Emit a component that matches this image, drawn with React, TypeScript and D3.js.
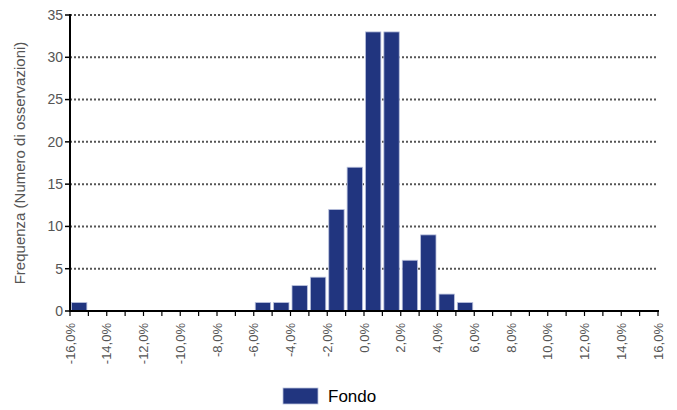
import { useEffect, useRef } from "react";
import * as d3 from "d3";

// bin lower edges (%) and counts
const binStarts = [-16, -15, -14, -13, -12, -11, -10, -9, -8, -7, -6, -5, -4, -3, -2, -1, 0, 1, 2, 3, 4, 5, 6, 7, 8, 9, 10, 11, 12, 13, 14, 15];
const counts = [1, 0, 0, 0, 0, 0, 0, 0, 0, 0, 1, 1, 3, 4, 12, 17, 33, 33, 6, 9, 2, 1, 0, 0, 0, 0, 0, 0, 0, 0, 0, 0];
const xTicks = [-16, -14, -12, -10, -8, -6, -4, -2, 0, 2, 4, 6, 8, 10, 12, 14, 16];
const yTicks = [0, 5, 10, 15, 20, 25, 30, 35];
const seriesName = "Fondo";

const W = 677;
const H = 410;
const FONT = "'Liberation Sans', Arial, sans-serif";
const BAR = "#21357f";

export default function App() {
  const svgRef = useRef<SVGSVGElement | null>(null);

  useEffect(() => {
    if (!svgRef.current) return;
    const svg = d3.select(svgRef.current);
    svg.selectAll("*").remove();

    const x = d3.scaleLinear().domain([-16, 16]).range([70, 658]);
    const y = d3.scaleLinear().domain([0, 35]).range([311, 15]);

    // dotted grid
    svg.append("g")
      .selectAll("line")
      .data(yTicks.filter((d) => d > 0))
      .enter()
      .append("line")
      .attr("x1", x(-16))
      .attr("x2", x(16))
      .attr("y1", (d) => y(d))
      .attr("y2", (d) => y(d))
      .attr("stroke", "#555")
      .attr("stroke-width", 2)
      .attr("stroke-dasharray", "2,2");

    // bars
    const data = binStarts.map((s, i) => ({ s, v: counts[i] })).filter((d) => d.v > 0);
    svg.append("g")
      .selectAll("rect")
      .data(data)
      .enter()
      .append("rect")
      .attr("x", (d) => x(d.s) + 1.5)
      .attr("width", (d) => x(d.s + 1) - x(d.s) - 3)
      .attr("y", (d) => y(d.v))
      .attr("height", (d) => y(0) - y(d.v))
      .attr("fill", BAR)
      .attr("stroke", "#b8c0dc")
      .attr("stroke-width", 0.8);

    // x axis
    const xAxis = svg.append("g").attr("transform", `translate(0,${y(0)})`);
    xAxis.append("line")
      .attr("x1", x(-16) - 1)
      .attr("x2", x(16) + 1)
      .attr("stroke", "#000")
      .attr("stroke-width", 2);
    xAxis.selectAll("line.tick")
      .data(d3.range(-16, 17))
      .enter()
      .append("line")
      .attr("class", "tick")
      .attr("x1", (d) => x(d))
      .attr("x2", (d) => x(d))
      .attr("y1", 0)
      .attr("y2", 5)
      .attr("stroke", "#000")
      .attr("stroke-width", 1.2);
    xAxis.selectAll("text")
      .data(xTicks)
      .enter()
      .append("text")
      .attr("transform", (d) => `translate(${x(d) + 4.5},12) rotate(-90)`)
      .attr("text-anchor", "end")
      .attr("font-family", FONT)
      .attr("font-size", 13)
      .attr("fill", "#555")
      .text((d) => d.toFixed(1).replace(".", ",") + "%");

    // y axis
    const yAxis = svg.append("g");
    yAxis.append("line")
      .attr("x1", x(-16))
      .attr("x2", x(-16))
      .attr("y1", y(35) - 1)
      .attr("y2", y(0) + 1)
      .attr("stroke", "#000")
      .attr("stroke-width", 2);
    yAxis.selectAll("line.tick")
      .data(yTicks)
      .enter()
      .append("line")
      .attr("class", "tick")
      .attr("x1", x(-16) - 5)
      .attr("x2", x(-16))
      .attr("y1", (d) => y(d))
      .attr("y2", (d) => y(d))
      .attr("stroke", "#000")
      .attr("stroke-width", 1.5);
    yAxis.selectAll("text")
      .data(yTicks)
      .enter()
      .append("text")
      .attr("x", 63)
      .attr("y", (d) => y(d))
      .attr("dy", "0.35em")
      .attr("text-anchor", "end")
      .attr("font-family", FONT)
      .attr("font-size", 14)
      .attr("fill", "#555")
      .text((d) => d);

    svg.append("text")
      .attr("transform", `translate(25,${(y(0) + y(35)) / 2}) rotate(-90)`)
      .attr("text-anchor", "middle")
      .attr("font-family", FONT)
      .attr("font-size", 15)
      .attr("fill", "#555")
      .text("Frequenza (Numero di osservazioni)");

    // legend
    const lg = svg.append("g").attr("transform", "translate(283,388)");
    lg.append("rect")
      .attr("width", 35)
      .attr("height", 16)
      .attr("fill", BAR)
      .attr("stroke", "#b8c0dc")
      .attr("stroke-width", 0.8);
    lg.append("text")
      .attr("x", 45)
      .attr("y", 8)
      .attr("dy", "0.35em")
      .attr("font-family", FONT)
      .attr("font-size", 17)
      .attr("fill", "#000")
      .text(seriesName);
  }, []);

  return (
    <svg
      ref={svgRef}
      width={W}
      height={H}
      style={{ position: "absolute", left: 0, top: 0, background: "#fff" }}
    />
  );
}
